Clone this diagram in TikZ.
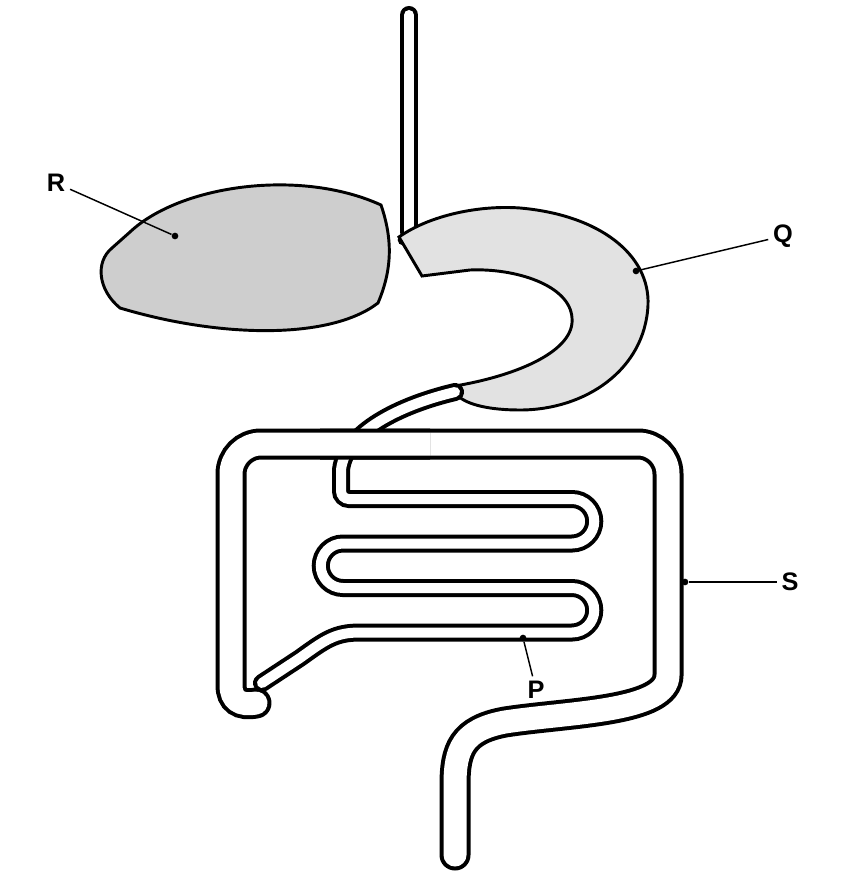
\documentclass[tikz,border=0pt]{standalone}
\usepackage{fontspec}
\setmainfont{Liberation Sans}
\tikzset{every picture/.style={line width=0.75pt}}
\tikzset{
  tube/.style={line width=3pt, double=white, line cap=round},
  organ/.style={draw=black, line width=2.2pt},
  lbl/.style={font=\fontsize{19}{22}\selectfont\bfseries},
  lead/.style={line width=1.1pt},
  tip/.style={circle, fill=black, inner sep=0pt, minimum size=5pt}
}
\newcommand{\bigbowel}{(256,703) .. controls (240,706) and (231,700) .. (231,685) -- (231,474) arc (180:270:30) -- (638,444) arc (-90:0:30) -- (668,675) .. controls (668,712) and (570,712) .. (505,722) .. controls (462,730) and (455,750) .. (455,785) -- (455,855)}
\begin{document}
\begin{tikzpicture}[x=0.75pt,y=0.75pt,yscale=-1,xscale=1]
\useasboundingbox (0,0) rectangle (860,880);

% liver
\draw [organ, fill={rgb, 255:red, 206; green, 206; blue, 206 }] (130,232) .. controls (180,185) and (300,168) .. (381,205) .. controls (393,240) and (392,270) .. (378,303) .. controls (330,340) and (220,338) .. (120,308) .. controls (98,290) and (95,262) .. (112,248) -- cycle ;

% oesophagus
\draw [tube, double distance=7.5pt] (409,15) -- (409,232) ;
\node [tip, minimum size=8pt] (jn) at (403,240) {};

% stomach
\draw [organ, fill={rgb, 255:red, 226; green, 226; blue, 226 }] (399,237) .. controls (430,215) and (480,205) .. (520,208) .. controls (600,215) and (650,255) .. (648,305) .. controls (645,370) and (585,410) .. (520,410) .. controls (490,410) and (468,405) .. (458,396) -- (455,386) .. controls (520,375) and (575,350) .. (572,318) .. controls (570,285) and (515,268) .. (470,270) -- (422,276) -- cycle ;

% large intestine
\draw [tube, double distance=17.25pt] \bigbowel ;
% small intestine
\draw [tube, double distance=7.5pt] (455,392) .. controls (400,405) and (345,432) .. (341,470) -- (341,491) arc (180:90:8) -- (572,499) arc (-90:90:22.25) -- (343,543.5) arc (-90:-270:22.25) -- (572,588) arc (-90:90:22.25) -- (360,632.5) .. controls (335,632.5) and (325,640) .. (300,658) -- (262,683) ;
% large intestine again where the small one passes under it
\begin{scope}
  \clip (320,422) rectangle (430,461);
  \draw [tube, double distance=17.25pt] \bigbowel ;
\end{scope}

% labels
\node [lbl] (R) at (56,183) {R};
\node [lbl] (Q) at (783,236) {Q};
\node [lbl] (S) at (790,582) {S};
\node [lbl] (P) at (536,690) {P};
\node [tip] (r) at (175,236) {};
\node [tip] (q) at (636,271) {};
\node [tip] (s) at (685,582) {};
\node [tip] (p) at (523,638) {};
\draw [lead] (R) -- (r) ;
\draw [lead] (Q) -- (q) ;
\draw [lead] (S) -- (s) ;
\draw [lead] (P) -- (p) ;

\end{tikzpicture}
\end{document}
